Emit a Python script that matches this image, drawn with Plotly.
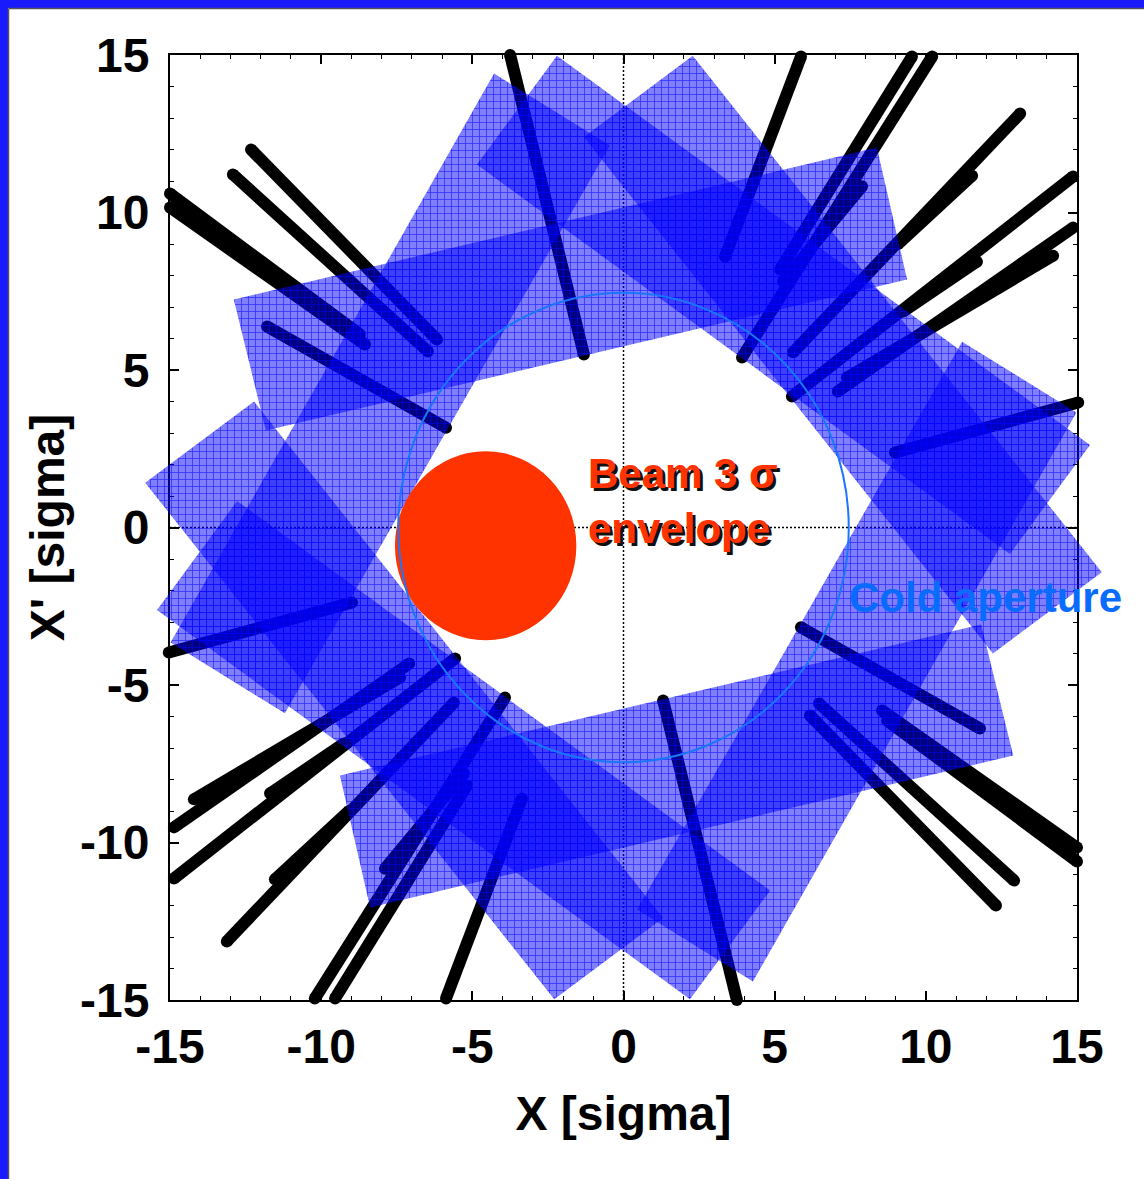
import plotly.graph_objects as go

# ---------------- data (units of sigma) ----------------
# collimator jaws: four corners of each jaw rectangle in normalised phase space
jaw_names = ["A", "A'", "B", "B'", "C", "C'", "E", "E'"]
jaw_x = [
    [-12.89, 8.38, 9.38, -11.83],
    [12.89, -8.38, -9.38, 11.83],
    [-4.28, -0.45, -11.20, -14.98],
    [4.28, 0.45, 11.20, 14.98],
    [-4.85, -2.20, 15.43, 12.78],
    [4.85, 2.20, -15.43, -12.78],
    [2.29, 15.82, 12.22, -1.31],
    [-2.29, -15.82, -12.22, 1.31],
]
jaw_y = [
    [7.24, 12.06, 7.87, 3.08],
    [-7.24, -12.06, -7.87, -3.08],
    [14.41, 12.13, -5.90, -3.65],
    [-14.41, -12.13, 5.90, 3.65],
    [11.52, 14.98, 2.62, -0.84],
    [-11.52, -14.98, -2.62, 0.84],
    [14.98, -1.42, -4.00, 12.40],
    [-14.98, 1.42, 4.00, -12.40],
]

# black segments: start and end points
seg_x0 = [-15.00, -15.00, -12.32, -12.92, -11.79, -3.75, 5.87, 9.54, 10.21, 7.89,
          13.12, 14.87, 14.87, 14.21, 15.04, 11.53, 11.69,
          15.00, 15.00, 12.32, 12.92, 11.79, 3.75, -5.87, -9.54, -10.21, -7.89,
          -13.12, -14.87, -14.87, -14.21, -15.04, -11.53, -11.69]
seg_y0 = [10.60, 10.16, 12.00, 11.21, 6.38, 15.00, 14.95, 14.95, 14.95, 10.83,
          13.14, 11.14, 9.52, 8.63, 3.97, 11.17, 8.44,
          -10.60, -10.16, -12.00, -11.21, -6.38, -15.00, -14.95, -14.95, -14.95, -10.83,
          -13.14, -11.14, -9.52, -8.63, -3.97, -11.17, -8.44]
seg_x1 = [-8.72, -8.55, -6.17, -6.47, -5.87, -1.31, 3.36, 5.18, 3.92, 5.28,
          5.61, 5.57, 7.09, 7.39, 8.98, 9.08, 9.25,
          8.72, 8.55, 6.17, 6.47, 5.87, 1.31, -3.36, -5.18, -3.92, -5.28,
          -5.61, -5.57, -7.09, -7.39, -8.98, -9.08, -9.25]
seg_y1 = [6.13, 5.81, 5.97, 5.59, 3.17, 5.49, 8.60, 8.19, 5.40, 7.81,
          5.56, 4.16, 4.32, 4.76, 2.38, 9.00, 6.86,
          -6.13, -5.81, -5.97, -5.59, -3.17, -5.49, -8.60, -8.19, -5.40, -7.81,
          -5.56, -4.16, -4.32, -4.76, -2.38, -9.00, -6.86]

beam_center = (-4.56, -0.58)
beam_radius = 3.0
cold_aperture_radius = 7.45

tick_vals = [-15, -10, -5, 0, 5, 10, 15]
tick_text = ["-15", "-10", "-5", "0", "5", "10", "15"]

# ---------------- layout geometry ----------------
W, H = 1144, 1179
PL, PR, PT, PB = 170, 1077, 55, 1000
ux = (PR - PL) / 30.0
uy = (PB - PT) / 30.0
x2_range = [-15 - PL / ux, 15 + (W - PR) / ux]
y2_range = [-15 - (H - PB) / uy, 15 + PT / uy]

FONT = "Liberation Sans, Arial, sans-serif"

fig = go.Figure()

# black segments (drawn first, under the jaws)
lx, ly, mx, my = [], [], [], []
for a, b, c, d in zip(seg_x0, seg_y0, seg_x1, seg_y1):
    lx += [a, c, None]
    ly += [b, d, None]
    mx += [a, c]
    my += [b, d]
fig.add_trace(go.Scatter(x=lx, y=ly, mode="lines", line=dict(color="black", width=12),
                         xaxis="x2", yaxis="y2", hoverinfo="skip", showlegend=False))
fig.add_trace(go.Scatter(x=mx, y=my, mode="markers", marker=dict(color="black", size=12),
                         xaxis="x2", yaxis="y2", hoverinfo="skip", showlegend=False))

# jaw rectangles
for name, xs, ys in zip(jaw_names, jaw_x, jaw_y):
    fig.add_trace(go.Scatter(
        x=xs + [xs[0]], y=ys + [ys[0]], mode="lines", fill="toself", name=name,
        line=dict(width=0, color="rgba(0,0,0,0)"),
        fillcolor="rgba(0,0,255,0.5)",
        fillpattern=dict(shape="+", size=7, solidity=0.22, fgcolor="#0000ff",
                         fgopacity=0.6, bgcolor="rgba(0,0,255,0.5)"),
        xaxis="x2", yaxis="y2", hoverinfo="skip", showlegend=False))

shapes = []
# dotted zero lines
shapes.append(dict(type="line", xref="x", yref="y", x0=0, x1=0, y0=-15, y1=15,
                   line=dict(color="black", width=1.5, dash="2px,2px"), layer="below"))
shapes.append(dict(type="line", xref="x", yref="y", x0=-15, x1=15, y0=0, y1=0,
                   line=dict(color="black", width=1.5, dash="2px,2px"), layer="below"))
# beam envelope
cx, cy = beam_center
shapes.append(dict(type="circle", xref="x2", yref="y2",
                   x0=cx - beam_radius, x1=cx + beam_radius,
                   y0=cy - beam_radius, y1=cy + beam_radius,
                   fillcolor="#ff3300", line=dict(width=0), layer="above"))
# cold aperture
r = cold_aperture_radius
shapes.append(dict(type="circle", xref="x2", yref="y2", x0=-r, x1=r, y0=-r, y1=r,
                   line=dict(color="#1a75ff", width=2), layer="above"))
# slide frame
shapes.append(dict(type="rect", xref="paper", yref="paper", x0=0, x1=8 / W, y0=0, y1=1,
                   fillcolor="#1a1aff", line=dict(width=0)))
shapes.append(dict(type="rect", xref="paper", yref="paper", x0=0, x1=1, y0=1 - 8 / H, y1=1,
                   fillcolor="#1a1aff", line=dict(width=0)))
shapes.append(dict(type="line", xref="paper", yref="paper", x0=8.5 / W, x1=8.5 / W,
                   y0=0, y1=1 - 8.5 / H, line=dict(color="#555555", width=1.5)))
shapes.append(dict(type="line", xref="paper", yref="paper", x0=8.5 / W, x1=1,
                   y0=1 - 8.5 / H, y1=1 - 8.5 / H, line=dict(color="#555555", width=1.5)))

annotations = []
annotations.append(dict(xref="x", yref="y", x=-1.24, y=0.85, text="Beam 3 σ<br>envelope",
                        showarrow=False, xanchor="left", yanchor="middle", align="left",
                        font=dict(family=FONT, size=42, color="#ff3300", weight="bold",
                                  shadow="3px 3px 0px #111111")))
annotations.append(dict(xref="x", yref="y", x=7.40, y=-2.22, text="Cold aperture",
                        showarrow=False, xanchor="left", yanchor="middle",
                        font=dict(family=FONT, size=42, color="#0a6cff", weight="bold")))

axis_common = dict(
    range=[-15, 15], tickvals=tick_vals, ticktext=tick_text,
    ticks="inside", ticklen=9, tickwidth=1.5, tickcolor="black",
    showline=True, linecolor="black", linewidth=2, mirror="ticks",
    showgrid=False, zeroline=False, automargin=False,
    minor=dict(dtick=1, tick0=0, ticks="inside", ticklen=4, tickwidth=1.2,
               tickcolor="black", showgrid=False),
    tickfont=dict(family=FONT, size=48, color="black", weight="bold"),
)

fig.update_layout(
    width=W, height=H, autosize=False,
    margin=dict(l=0, r=0, t=0, b=0),
    paper_bgcolor="white", plot_bgcolor="rgba(0,0,0,0)",
    showlegend=False,
    xaxis=dict(domain=[PL / W, PR / W], anchor="y", ticklabelstandoff=3,
               title=dict(text="X [sigma]", standoff=25,
                          font=dict(family=FONT, size=48, color="black", weight="bold")),
               **axis_common),
    yaxis=dict(domain=[(H - PB) / H, (H - PT) / H], anchor="x", ticklabelstandoff=9,
               title=dict(text="X' [sigma]", standoff=0,
                          font=dict(family=FONT, size=48, color="black", weight="bold")),
               **axis_common),
    xaxis2=dict(domain=[0, 1], range=x2_range, anchor="y2", visible=False,
                showgrid=False, zeroline=False, automargin=False),
    yaxis2=dict(domain=[0, 1], range=y2_range, anchor="x2", visible=False,
                showgrid=False, zeroline=False, automargin=False),
    shapes=shapes,
    annotations=annotations,
)

fig.write_html("out.html")
